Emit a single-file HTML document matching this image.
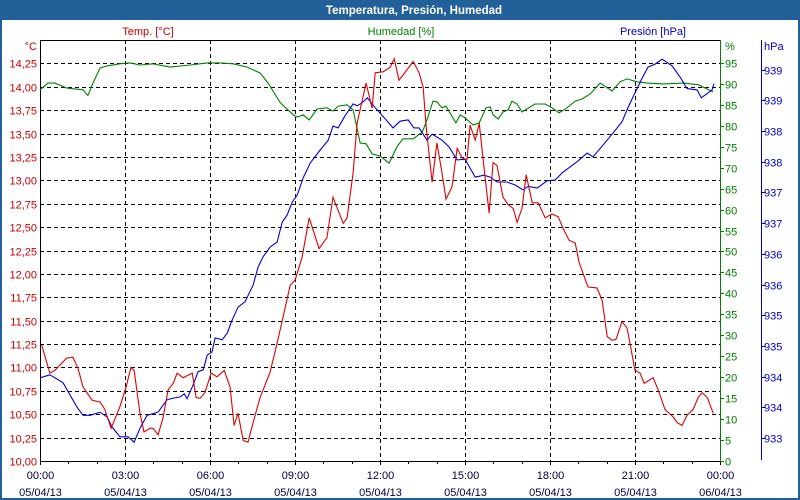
<!DOCTYPE html>
<html><head><meta charset="utf-8">
<style>
html,body{margin:0;padding:0;background:#fff;}
svg{display:block;font-family:"Liberation Sans",Tahoma,sans-serif;font-size:11px;}
</style></head>
<body>
<svg id="chart" width="800" height="500" viewBox="0 0 800 500">
  <rect x="0" y="0" width="800" height="500" fill="#fff"/>
  <rect x="0" y="0" width="800" height="20" fill="#22609a"/>
  <text x="414" y="14" fill="#fff" font-weight="bold" font-size="11.5" text-anchor="middle">Temperatura, Presión, Humedad</text>
  <rect x="1" y="1" width="798" height="498" fill="none" stroke="#22609a" stroke-width="2"/>
  <text x="148" y="35" fill="#cc0000" text-anchor="middle">Temp. [°C]</text>
  <text x="401" y="35" fill="#008000" text-anchor="middle">Humedad [%]</text>
  <text x="686" y="35" fill="#0000cc" text-anchor="end">Presión [hPa]</text>
  <text x="37" y="50" fill="#cc0000" text-anchor="end">°C</text>
  <text x="725" y="50" fill="#008000">%</text>
  <text x="764" y="50" fill="#0000cc">hPa</text>
  <g id="grid"></g>
  <g id="axes"></g>
  <g id="series"></g>
</svg>
<script>
const tempTimes=[0.06,0.35,0.53,0.94,1.16,1.34,1.52,1.84,2.12,2.29,2.51,2.82,3.04,3.21,3.32,3.53,3.67,3.88,3.99,4.17,4.34,4.52,4.70,4.84,5.05,5.37,5.51,5.65,5.82,6.04,6.25,6.50,6.71,6.85,6.99,7.17,7.34,7.52,7.77,7.94,8.12,8.37,8.58,8.83,9.00,9.25,9.50,9.85,10.13,10.34,10.70,10.84,11.05,11.19,11.51,11.72,11.83,12.11,12.36,12.50,12.67,13.17,13.38,13.52,13.63,13.84,14.01,14.19,14.33,14.54,14.72,14.90,15.07,15.18,15.36,15.50,15.67,15.85,15.99,16.13,16.34,16.52,16.70,16.84,17.01,17.16,17.37,17.58,17.83,18.07,18.29,18.46,18.67,18.89,19.03,19.34,19.66,19.84,20.02,20.19,20.33,20.54,20.72,21.00,21.18,21.32,21.64,21.82,22.06,22.35,22.49,22.66,22.84,23.05,23.23,23.37,23.55,23.76];
const tempValues=[11.24,10.94,10.97,11.10,11.11,10.99,10.79,10.65,10.63,10.55,10.35,10.58,10.79,11.00,10.97,10.51,10.31,10.35,10.35,10.28,10.46,10.76,10.83,10.94,10.89,10.94,10.68,10.67,10.73,10.94,10.90,10.97,10.79,10.38,10.51,10.22,10.20,10.41,10.68,10.81,10.95,11.26,11.54,11.88,11.93,12.18,12.60,12.27,12.39,12.82,12.54,12.60,13.08,13.61,14.04,13.77,14.15,14.16,14.21,14.30,14.07,14.27,14.15,14.00,13.57,12.98,13.40,13.08,12.80,12.93,13.34,13.24,13.22,13.59,13.43,13.61,13.14,12.65,13.19,13.16,12.82,12.74,12.70,12.55,12.70,13.06,12.76,12.76,12.60,12.64,12.61,12.49,12.36,12.33,12.12,11.86,11.85,11.72,11.33,11.29,11.30,11.49,11.42,10.97,10.94,10.83,10.89,10.76,10.55,10.47,10.41,10.38,10.49,10.55,10.68,10.73,10.68,10.51];
const humTimes=[0,0.28,0.53,0.95,1.52,1.69,1.87,2.12,2.37,2.82,3.18,3.53,3.99,4.59,5.30,5.90,6.36,6.82,7.31,7.77,8.05,8.48,8.94,9.08,9.29,9.50,9.78,10.13,10.34,10.52,10.84,11.05,11.30,11.51,11.72,12.00,12.32,12.60,12.81,13.17,13.49,13.66,13.87,14.01,14.19,14.33,14.68,14.83,15.00,15.29,15.50,15.74,15.89,15.99,16.17,16.34,16.52,16.66,16.84,17.01,17.47,17.83,18.07,18.32,18.60,18.89,19.13,19.42,19.77,20.19,20.47,20.72,21.07,21.43,21.99,22.70,23.23,23.76];
const humValues=[88.6,90.2,90.2,89.0,88.6,87.2,90.2,93.8,94.3,94.8,95.0,94.5,94.8,94.0,94.5,95.0,95.0,94.8,94.0,92.6,90.2,85.5,82.6,82.1,82.6,81.4,84.0,84.3,83.5,84.7,85.0,83.8,75.9,75.7,73.3,72.8,71.1,75.0,76.9,76.9,78.5,81.4,85.9,85.7,84.3,84.7,80.7,82.6,81.9,80.2,80.7,84.3,84.5,82.6,81.6,83.3,83.8,85.9,85.2,83.3,85.2,85.2,84.3,83.1,84.3,85.9,86.4,87.6,90.2,88.3,90.5,91.2,90.5,90.2,90.0,90.2,89.8,88.1];
const presTimes=[0,0.35,0.81,1.06,1.31,1.52,1.77,2.12,2.37,2.54,2.82,3.11,3.32,3.53,3.78,4.17,4.48,4.70,4.95,5.09,5.19,5.40,5.58,5.76,5.90,6.07,6.18,6.43,6.61,6.78,6.99,7.24,7.52,7.70,7.87,8.12,8.37,8.55,8.72,8.90,9.08,9.29,9.54,9.89,10.17,10.34,10.52,10.77,11.05,11.19,11.37,11.55,11.83,12.18,12.46,12.71,12.99,13.20,13.38,13.66,13.84,14.19,14.44,14.72,15.00,15.36,15.67,15.89,16.13,16.48,16.77,17.05,17.23,17.55,17.90,18.18,18.43,18.96,19.31,19.52,19.94,20.23,20.54,20.76,21.00,21.25,21.46,21.71,21.96,22.31,22.59,22.84,23.19,23.34,23.72,23.79];
const presValues=[933.98,934.03,933.90,933.70,933.50,933.37,933.37,933.42,933.34,933.18,933.02,933.02,932.93,933.16,933.37,933.42,933.62,933.65,933.67,933.72,933.64,933.86,934.08,934.11,934.35,934.40,934.63,934.60,934.71,934.92,935.13,935.22,935.49,935.79,935.95,936.11,936.19,936.52,936.63,936.84,936.96,937.24,937.48,937.69,937.85,938.08,938.05,938.25,938.44,938.41,938.46,938.54,938.38,938.20,938.05,938.16,938.18,938.05,938.05,937.85,937.95,937.85,937.74,937.53,937.54,937.25,937.28,937.25,937.17,937.17,937.12,937.04,937.10,937.07,937.19,937.20,937.32,937.50,937.64,937.58,937.81,937.97,938.15,938.39,938.62,938.86,939.04,939.09,939.17,939.06,938.88,938.69,938.67,938.54,938.67,938.77];
const tempTicks=[10,10.25,10.5,10.75,11,11.25,11.5,11.75,12,12.25,12.5,12.75,13,13.25,13.5,13.75,14,14.25];
const humTicks=[0,5,10,15,20,25,30,35,40,45,50,55,60,65,70,75,80,85,90,95];
const presTicks=[933,933.5,934,934.5,935,935.5,936,936.5,937,937.5,938,938.5,939];
const timeTicks=[0,3,6,9,12,15,18,21,24];
const timeLabels=["00:00","03:00","06:00","09:00","12:00","15:00","18:00","21:00","00:00"];
const dateLabels=["05/04/13","05/04/13","05/04/13","05/04/13","05/04/13","05/04/13","05/04/13","05/04/13","06/04/13"];

const X0=40,X1=720,Y0=461,Y1=40;
const xs=t=>X0+(X1-X0)*t/24;
const yT=v=>Y0-(v-10)*93.55;
const yH=v=>Y0-v*4.19;
const yP=v=>438-(v-933)*61.4;
const NS="http://www.w3.org/2000/svg";
function mk(tag,attrs,parent,txt){const e=document.createElementNS(NS,tag);for(const k in attrs)e.setAttribute(k,attrs[k]);if(txt!==undefined)e.textContent=txt;parent.appendChild(e);return e;}
const grid=document.getElementById('grid'),axes=document.getElementById('axes'),series=document.getElementById('series');

tempTicks.forEach(v=>{const y=Math.round(yT(v))+0.5;
  if(v>10){const l=mk('line',{x1:X0,x2:X1,y1:y,y2:y,stroke:'#000','stroke-dasharray':'4,3'},grid);
  
  }
  const t=mk('text',{x:37,y:y+4,fill:'#cc0000','text-anchor':'end'},axes,v.toFixed(2).replace('.',','));
  
  
});
timeTicks.forEach((h,i)=>{const x=Math.round(xs(h))+0.5;
  if(i>0&&i<timeTicks.length-1){const l=mk('line',{x1:x,x2:x,y1:Y1,y2:Y0,stroke:'#000','stroke-dasharray':'4,3'},grid);
  
  }
  const t=mk('text',{x:x,y:479,fill:'#000040','text-anchor':'middle'},axes,timeLabels[i]);
  
  
  const d=mk('text',{x:x,y:496,fill:'#000040','text-anchor':'middle'},axes,dateLabels[i]);
  
  
});
for(let h=0;h<=24;h++){const x=Math.round(xs(h))+0.5;
  const l=mk('line',{x1:x,x2:x,y1:Y0,y2:Y0+(h%3==0?4:3),stroke:'#000'},axes);
  
  }
humTicks.forEach(v=>{const y=Math.round(yH(v))+0.5;
  const l=mk('line',{x1:720,x2:724,y1:y,y2:y,stroke:'#008000'},axes);
  
  
  const t=mk('text',{x:725,y:y+4,fill:'#008000'},axes,String(v));
  
  
});
presTicks.forEach(v=>{const y=Math.round(yP(v))+0.5;
  const l=mk('line',{x1:761,x2:765,y1:y,y2:y,stroke:'#0000cc'},axes);
  
  
  const t=mk('text',{x:764,y:y+4,fill:'#0000cc'},axes,String(Math.round(v)));
  
  
});
let a;
a=mk('line',{x1:40.5,x2:40.5,y1:40,y2:461,stroke:'#000'},axes);


a=mk('line',{x1:40,x2:720,y1:40.5,y2:40.5,stroke:'#000'},axes);


a=mk('line',{x1:40,x2:720,y1:461.5,y2:461.5,stroke:'#000'},axes);


a=mk('line',{x1:720.5,x2:720.5,y1:40,y2:462,stroke:'#008000'},axes);


a=mk('line',{x1:761.5,x2:761.5,y1:40,y2:460,stroke:'#0000cc'},axes);



function path(times,vals,yf,color,name){
  const d=times.map((t,i)=>(i?'L':'M')+xs(t).toFixed(1)+','+yf(vals[i]).toFixed(1)).join('');
  const p=mk('path',{d:d,fill:'none',stroke:color,'stroke-width':1.1},series);
  
  
}
path(humTimes,humValues,yH,'#008000','humidity-line');
path(presTimes,presValues,yP,'#0000dd','pressure-line');
path(tempTimes,tempValues,yT,'#dd0000','temperature-line');
</script>
</body></html>
